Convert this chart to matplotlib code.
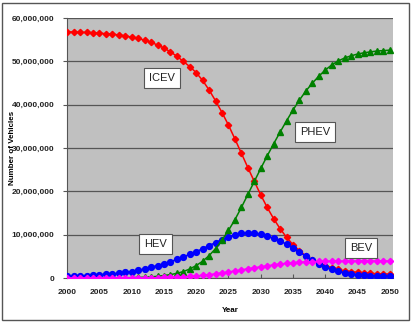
import numpy as np
import matplotlib
matplotlib.use('Agg')
import matplotlib.pyplot as plt
from matplotlib.ticker import FuncFormatter
from matplotlib.patches import Rectangle

plt.rcParams['font.family'] = ['Liberation Sans', 'DejaVu Sans']

# years and vehicle stocks (millions)
years = list(range(2000, 2051))

icev = [56.8, 56.8, 56.7, 56.7, 56.6, 56.5, 56.4, 56.3, 56.1, 55.9,
        55.6, 55.3, 54.9, 54.4, 53.8, 53.1, 52.2, 51.2, 50.0, 48.8,
        47.4, 45.6, 43.4, 40.9, 38.2, 35.3, 32.1, 28.8, 25.5, 22.3,
        19.2, 16.3, 13.7, 11.4, 9.4, 7.7, 6.3, 5.1, 4.2, 3.5,
        2.9, 2.4, 2.0, 1.7, 1.5, 1.3, 1.2, 1.1, 1.0, 0.95, 0.9]

hev = [0.4, 0.45, 0.5, 0.6, 0.7, 0.8, 0.9, 1.0, 1.1, 1.3,
       1.5, 1.8, 2.1, 2.5, 2.9, 3.3, 3.8, 4.3, 4.9, 5.5,
       6.1, 6.8, 7.5, 8.2, 8.9, 9.5, 10.0, 10.3, 10.4, 10.3,
       10.1, 9.7, 9.2, 8.6, 7.8, 6.9, 6.0, 5.0, 4.1, 3.3,
       2.6, 2.0, 1.6, 1.2, 1.0, 0.8, 0.7, 0.6, 0.5, 0.45, 0.4]

phev = [0.0, 0.0, 0.0, 0.0, 0.0, 0.02, 0.03, 0.04, 0.06, 0.08,
        0.1, 0.15, 0.2, 0.3, 0.4, 0.6, 0.8, 1.1, 1.5, 2.1,
        2.9, 3.9, 5.2, 6.8, 8.8, 11.0, 13.5, 16.3, 19.3, 22.3,
        25.3, 28.2, 31.0, 33.7, 36.3, 38.8, 41.1, 43.2, 45.0, 46.6,
        48.0, 49.2, 50.1, 50.8, 51.3, 51.7, 52.0, 52.2, 52.4, 52.5, 52.6]

bev = [0.05, 0.05, 0.05, 0.05, 0.05, 0.05, 0.05, 0.05, 0.05, 0.05,
       0.05, 0.05, 0.06, 0.08, 0.1, 0.15, 0.2, 0.25, 0.3, 0.4,
       0.5, 0.65, 0.8, 1.0, 1.2, 1.4, 1.65, 1.9, 2.15, 2.4,
       2.6, 2.85, 3.05, 3.25, 3.4, 3.55, 3.65, 3.75, 3.8, 3.85,
       3.9, 3.9, 3.9, 3.92, 3.92, 3.93, 3.94, 3.94, 3.95, 3.95, 3.95]

# label boxes: (text, year, value in millions)
labels = [('ICEV', 2014.7, 46.2), ('PHEV', 2038.4, 33.8),
          ('HEV', 2013.7, 7.9), ('BEV', 2045.6, 6.9)]

fig = plt.figure(figsize=(4.12, 3.23), dpi=100)
ax = fig.add_axes([0.163, 0.139, 0.791, 0.805])
ax.set_facecolor('#c0c0c0')

y = lambda v: np.array(v) * 1e6
ax.plot(years, y(icev), color='#ff0000', marker='D', ms=3.2, lw=1.1, zorder=3)
ax.plot(years, y(hev), color='#0000ff', marker='o', ms=4.2, lw=1.1, zorder=3)
ax.plot(years, y(phev), color='#008000', marker='^', ms=4.2, lw=1.1, zorder=3)
ax.plot(years, y(bev), color='#ff00ff', marker='D', ms=3.2, lw=1.1, zorder=4)

for txt, xx, vv in labels:
    ax.text(xx, vv * 1e6, txt, ha='center', va='center', fontsize=8, color='#222222',
            bbox=dict(boxstyle='square,pad=0.45', fc='white', ec='#555555', lw=0.8), zorder=5)

ax.set_xlim(2000, 2050.5)
ax.set_ylim(0, 60e6)
ax.set_xticks(range(2000, 2051, 5))
ax.set_yticks(np.arange(0, 60e6 + 1, 10e6))
ax.yaxis.set_major_formatter(FuncFormatter(lambda v, p: '{:,.0f}'.format(v)))
ax.yaxis.grid(True, color='#555555', lw=0.9)
ax.set_axisbelow(True)
for s in ['top', 'right']:
    ax.spines[s].set_visible(False)
for s in ['left', 'bottom']:
    ax.spines[s].set_color('#555555')
ax.tick_params(axis='both', labelsize=6, colors='#555555', labelcolor='#222222', length=3)
ax.tick_params(axis='x', direction='in', pad=8)
ax.tick_params(axis='y', pad=6)
for lab in ax.get_xticklabels() + ax.get_yticklabels():
    lab.set_fontweight('bold')

ax.set_xlabel('Year', fontsize=5.8, fontweight='bold')
ax.xaxis.set_label_coords(0.5, -0.11)
ax.set_ylabel('Number of Vehicles', fontsize=5.8, fontweight='bold')
ax.yaxis.set_label_coords(-0.158, 0.5)

fig.patches.append(Rectangle((0.006, 0.009), 0.986, 0.983, transform=fig.transFigure,
                             fill=False, ec='#555555', lw=1.0))

fig.savefig('out.png', dpi=100)
